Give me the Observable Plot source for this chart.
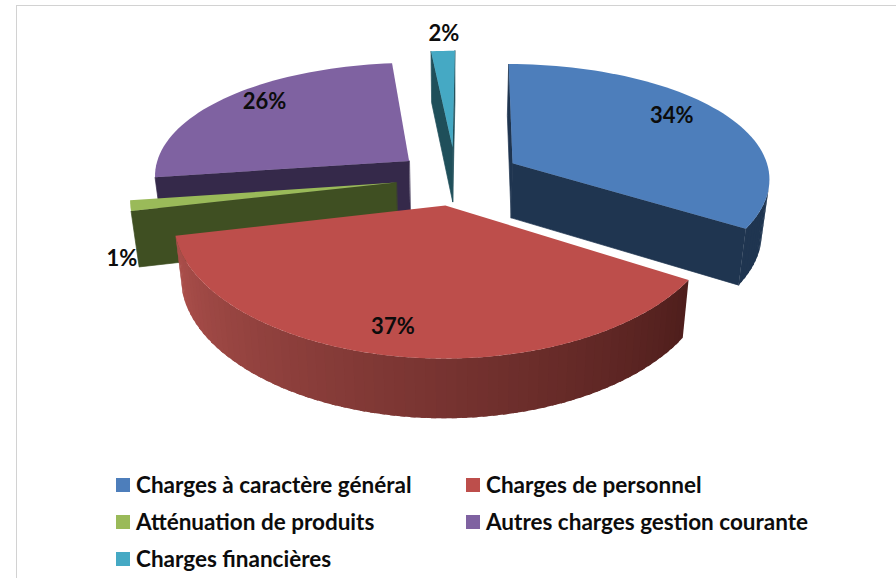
<!DOCTYPE html>
<html><head><meta charset="utf-8">
<script src="https://cdn.jsdelivr.net/npm/d3@7"></script>
<script src="https://cdn.jsdelivr.net/npm/@observablehq/plot@0.6"></script>
<style>
html,body{margin:0;padding:0;background:#fff;overflow:hidden}
#wrap{position:relative;width:896px;height:578px;overflow:hidden;font-family:Lato,sans-serif}
#frame{position:absolute;left:16px;top:5px;right:-5px;bottom:-5px;border-left:1.5px solid #d2d2d2;border-top:1.5px solid #d2d2d2}
#chart{position:absolute;left:0;top:0}
#chart svg{background:transparent;display:block}
#legend{position:absolute;left:116px;top:466px;display:grid;grid-template-columns:350px auto;grid-auto-rows:37px;font-weight:700;font-size:22.5px;color:#0c0c0c}
#legend .it{display:flex;align-items:center;gap:6px;white-space:nowrap}
#legend i{display:block;width:14px;height:14px}
</style></head><body>
<div id="wrap"><div id="frame"></div><div id="chart"></div><div id="legend"></div></div>
<script>
const categories = ["Charges à caractère général","Charges de personnel","Atténuation de produits","Autres charges gestion courante","Charges financières"];
const values = [33.75,37.49,1.35,25.74,1.67];
const topColors = ["#4d7ebb","#bd4e4b","#9aba59","#7f62a1","#45a9c4"];
const wallDark = ["#1f3550","#4d1d1b","#3f4f22","#35294a","#1f4f5a"];
const wallLight = ["#1f3550","#ab4f4b","#3f4f22","#35294a","#1f4f5a"];
const drawOrder = [4,3,2,0,1];
const sliceExplode = [66,60,60,60,68];
const sliceRadius = [258,262,262,256,262];
const labelNudge = [[7,-10],[-23,37],[8,52],[-11,-12],[2,-7]];
const labelFrac=[0.72,0.6,1.06,0.72,1.12];

// camera and pie geometry
const cx=455, cy=177, depth=55, c=0.458, uy=0.000584, ux=0.00045, bottomScale=0.975, startAngle=0.5, overlap=1;
const rad=d=>d*Math.PI/180;
const total=d3.sum(values);
let acc=0;
const slices=values.map((v,i)=>{const a0=startAngle+acc/total*360; acc+=v; const a1=startAngle+acc/total*360; return {i,v,a0,a1,mid:(a0+a1)/2};});
function proj(X,Z,bottom){
  const sy=1/(1+Z*uy), sx=1/(1+Z*ux);
  return bottom?[cx+X*sx*bottomScale, cy-c*Z*sy+depth*Math.pow(sy,0.4)]:[cx+X*sx, cy-c*Z*sy];
}
function world(sl,a,r){
  const e=sliceExplode[sl.i];
  return [e*Math.sin(rad(sl.mid))+r*Math.sin(rad(a)), e*Math.cos(rad(sl.mid))+r*Math.cos(rad(a))];
}
function area(p){let t=0;p.forEach((q,i)=>{const n=p[(i+1)%p.length];t+=q[0]*n[1]-n[0]*q[1];});return t;}
const polys=[]; let id=0;
function add(p,fill,stroke){const k=id++;p.forEach(q=>polys.push({id:k,x:q[0],y:q[1],fill,stroke}));}
function wall(p,q,fill,stroke){
  const poly=[proj(p[0],p[1],false),proj(q[0],q[1],false),proj(q[0],q[1],true),proj(p[0],p[1],true)];
  if(area(poly)<0) add(poly,fill,stroke);
}
const ramp=i=>d3.interpolateRgb(wallDark[i],wallLight[i]);
for(const k of drawOrder){
  const sl=slices[k], R=sliceRadius[k], ap=world(sl,0,0), rim=[];
  const n=Math.max(2,Math.ceil((sl.a1-sl.a0)/2));
  for(let j=0;j<=n;j++){const a=sl.a0+(sl.a1-sl.a0)*j/n; rim.push({a,p:world(sl,a,R)});}
  for(let j=0;j<n;j++){
    const am=(rim[j].a+rim[j+1].a)/2, t=Math.max(0,Math.min(1,(am-120)/(255-120)));
    const end=Math.min(sl.a1,rim[j+1].a+overlap);
    wall(rim[j].p,world(sl,end,R),ramp(k)(t),"none");
  }
  wall(ap,rim[0].p,wallDark[k],wallDark[k]);
  wall(rim[n].p,ap,wallDark[k],wallDark[k]);
  add([ap,...rim.map(r=>r.p)].map(q=>proj(q[0],q[1],false)),topColors[k],"none");
}
const labels=slices.map((sl,i)=>{
  const w=world(sl,sl.mid,sliceRadius[i]*labelFrac[i]), p=proj(w[0],w[1],false);
  return {x:p[0]+labelNudge[i][0],y:p[1]+labelNudge[i][1],text:d3.format(".0f")(values[i])+"%"};
});
const H=470;
const plot=Plot.plot({
  width:896,height:H,margin:0,
  x:{domain:[0,896],range:[0,896],axis:null},
  y:{domain:[0,H],range:[0,H],axis:null},
  color:{type:"identity"},
  marks:[
    Plot.line(polys,{x:"x",y:"y",z:"id",fill:"fill",stroke:"stroke",strokeWidth:0.7,curve:"linear-closed"}),
    Plot.text(labels,{x:"x",y:"y",text:"text",fontSize:22,fontWeight:700,fontFamily:"Lato, sans-serif",fill:"#0c0c0c"})
  ]
});
document.getElementById("chart").append(plot);
const leg=document.getElementById("legend");
[0,1,2,3,4].forEach(i=>{
  const d=document.createElement("div");d.className="it";
  const b=document.createElement("i");b.style.background=topColors[i];
  const s=document.createElement("span");s.textContent=categories[i];
  d.append(b,s);leg.append(d);
});
</script></body></html>
